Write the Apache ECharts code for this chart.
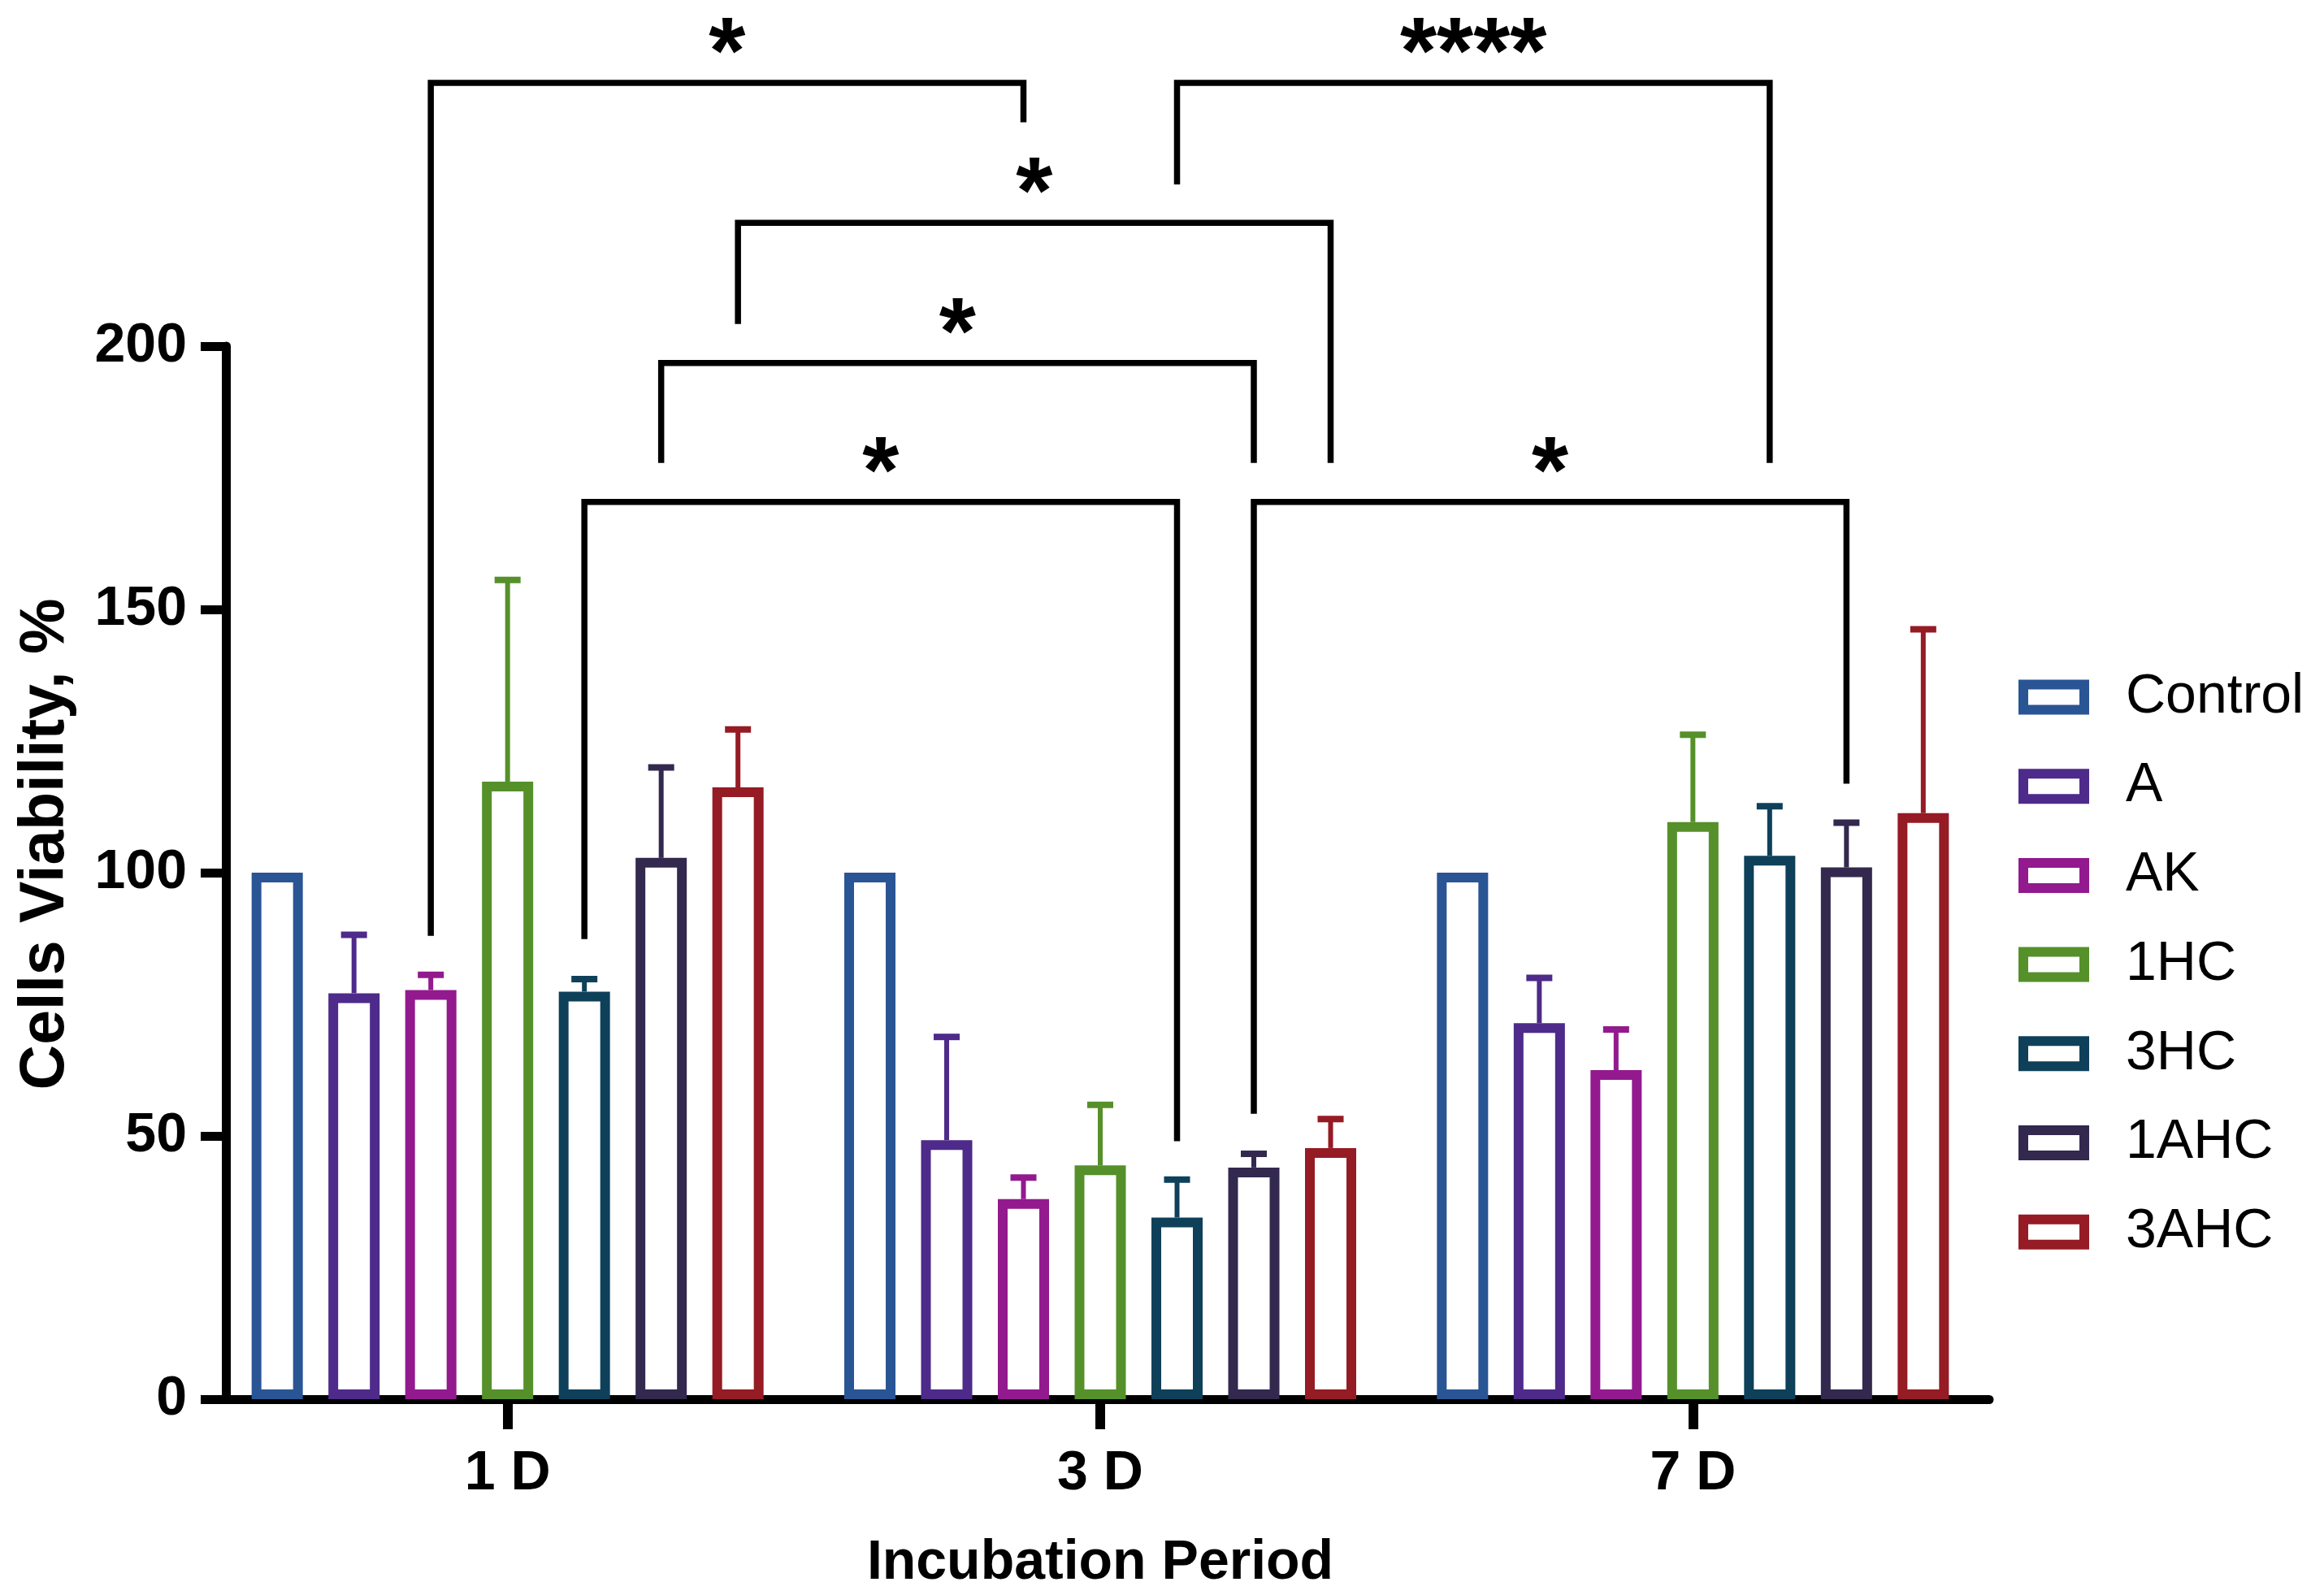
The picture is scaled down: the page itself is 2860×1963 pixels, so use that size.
<!DOCTYPE html>
<html>
<head>
<meta charset="utf-8">
<script src="https://cdn.jsdelivr.net/npm/echarts@6/dist/echarts.min.js"></script>
<style>
html,body{margin:0;padding:0;background:#fff;}
#chart{width:2860px;height:1963px;}
</style>
</head>
<body>
<div id="chart"></div>
<script>
// ---- data ----
const categories = ['1 D', '3 D', '7 D'];
const groups = ['Control', 'A', 'AK', '1HC', '3HC', '1AHC', '3AHC'];
const meanControl = [100, 100, 100];
const meanA      = [77.1, 49.2, 71.4];
const meanAK     = [77.7, 38.0, 62.5];
const mean1HC    = [117.3, 44.4, 109.6];
const mean3HC    = [77.4, 34.5, 103.2];
const mean1AHC   = [102.8, 44.0, 101.0];
const mean3AHC   = [116.2, 47.7, 111.3];
const sdControl  = [0, 0, 0];
const sdA        = [11.1, 19.6, 8.6];
const sdAK       = [2.9, 4.1, 7.7];
const sd1HC      = [38.3, 11.5, 16.6];
const sd3HC      = [2.4, 7.2, 9.4];
const sd1AHC     = [17.2, 2.6, 8.5];
const sd3AHC     = [11.0, 5.5, 34.9];
const yTicks = [0, 50, 100, 150, 200];
// significance brackets: [category, group] pairs, bracket level, feet ends (data units)
const bracketFrom   = [[0, 2], [1, 4], [0, 6], [0, 5], [0, 4], [1, 5]];
const bracketTo     = [[1, 2], [2, 4], [1, 6], [1, 5], [1, 4], [2, 5]];
const bracketLevel  = [250, 250, 223.4, 196.8, 170.4, 170.4];
const bracketFeet   = [[88, 242.5], [230.7, 177.8], [204.2, 177.8], [177.8, 177.8], [87.4, 49], [54.2, 116.9]];
const bracketLabels = ['*', '****', '*', '*', '*', '*'];

// ---- style ----
const means = [meanControl, meanA, meanAK, mean1HC, mean3HC, mean1AHC, mean3AHC];
const sds = [sdControl, sdA, sdAK, sd1HC, sd3HC, sd1AHC, sd3AHC];
const colors = ['#2A5595', '#4E2A8A', '#921A8E', '#56902A', '#0F405A', '#33284E', '#951B24'];
const FONT = '"Liberation Sans", Arial, Helvetica, sans-serif';
const BAR_W = 63;
const BAR_GAP = 0.5;
const BAR_STEP = BAR_W * (1 + BAR_GAP);
const MID = (groups.length - 1) / 2;

const chart = echarts.init(document.getElementById('chart'));

const barSeries = groups.map((g, i) => ({
  name: g,
  type: 'bar',
  data: means[i],
  barWidth: BAR_W,
  barGap: (BAR_GAP * 100) + '%',
  itemStyle: { color: '#ffffff', borderColor: colors[i], borderWidth: 12 },
  emphasis: { disabled: true },
  z: 2
}));

const errData = [];
groups.forEach((g, gi) => {
  categories.forEach((c, ci) => {
    if (sds[gi][ci] > 0) errData.push([ci, gi, means[gi][ci], means[gi][ci] + sds[gi][ci]]);
  });
});

const errSeries = {
  type: 'custom',
  name: 'err',
  data: errData,
  encode: { x: 0, y: [2, 3] },
  z: 3,
  silent: true,
  renderItem: function (params, api) {
    const ci = api.value(0), gi = api.value(1);
    const p1 = api.coord([ci, api.value(2)]);
    const p2 = api.coord([ci, api.value(3)]);
    const x = p1[0] + (gi - MID) * BAR_STEP;
    const col = colors[gi];
    return {
      type: 'group',
      children: [
        { type: 'line', shape: { x1: x, y1: p1[1], x2: x, y2: p2[1] }, style: { stroke: col, lineWidth: 6 } },
        { type: 'line', shape: { x1: x - 16, y1: p2[1], x2: x + 16, y2: p2[1] }, style: { stroke: col, lineWidth: 8 } }
      ]
    };
  }
};

const bracketData = bracketFrom.map((f, i) => [f[0], f[1], bracketTo[i][0], bracketTo[i][1], bracketLevel[i], bracketFeet[i][0], bracketFeet[i][1]]);

const bracketSeries = {
  type: 'custom',
  name: 'sig',
  data: bracketData,
  encode: { x: [0, 2], y: [4, 5, 6] },
  clip: false,
  silent: true,
  z: 5,
  renderItem: function (params, api) {
    const xA = api.coord([api.value(0), 0])[0] + (api.value(1) - MID) * BAR_STEP;
    const xB = api.coord([api.value(2), 0])[0] + (api.value(3) - MID) * BAR_STEP;
    const yL = api.coord([0, api.value(4)])[1];
    const yA = api.coord([0, api.value(5)])[1];
    const yB = api.coord([0, api.value(6)])[1];
    return {
      type: 'group',
      children: [
        { type: 'polyline', shape: { points: [[xA, yA], [xA, yL], [xB, yL], [xB, yB]] },
          style: { stroke: '#000', lineWidth: 7.5, fill: null, lineJoin: 'miter', lineCap: 'butt' } },
        { type: 'text', x: (xA + xB) / 2, y: yL - 31,
          style: { text: bracketLabels[params.dataIndex], fontSize: 116, fontWeight: 'bold', fontFamily: FONT,
                   fill: '#000', align: 'center', verticalAlign: 'middle' } }
      ]
    };
  }
};

chart.setOption({
  animation: false,
  backgroundColor: '#ffffff',
  textStyle: { fontFamily: FONT },
  grid: { left: 260, right: 412, top: 426, bottom: 236, containLabel: false },
  legend: {
    orient: 'vertical',
    left: 2479,
    top: 818,
    icon: 'rect',
    itemWidth: 75,
    itemHeight: 31,
    itemGap: 39.7,
    selectedMode: false,
    data: groups.map((g, i) => ({ name: g, itemStyle: { color: '#ffffff', borderColor: colors[i], borderWidth: 12 } })),
    textStyle: { fontSize: 68, color: '#000', fontFamily: FONT, lineHeight: 70, padding: [0, 0, 0, 46] }
  },
  xAxis: {
    type: 'category',
    data: categories,
    boundaryGap: true,
    axisLine: { show: true, lineStyle: { color: '#000', width: 11 } },
    axisTick: { show: true, alignWithLabel: true, length: 37, lineStyle: { color: '#000', width: 12 } },
    axisLabel: { fontSize: 68, fontWeight: 'bold', color: '#000', margin: 58, fontFamily: FONT },
    name: 'Incubation Period',
    nameLocation: 'middle',
    nameGap: 168,
    nameTextStyle: { fontSize: 68, fontWeight: 'bold', color: '#000', fontFamily: FONT },
    splitLine: { show: false }
  },
  yAxis: {
    type: 'value',
    min: yTicks[0],
    max: yTicks[yTicks.length - 1],
    interval: yTicks[1] - yTicks[0],
    offset: -18,
    axisLine: { show: true, lineStyle: { color: '#000', width: 11 } },
    axisTick: { show: true, length: 31, lineStyle: { color: '#000', width: 11 } },
    axisLabel: { fontSize: 68, fontWeight: 'bold', color: '#000', margin: 48, fontFamily: FONT },
    splitLine: { show: false },
    name: 'Cells Viability, %',
    nameLocation: 'middle',
    nameGap: 183,
    nameTextStyle: { fontSize: 77, fontWeight: 'bold', color: '#000', fontFamily: FONT, padding: [0, 0, 0, 70] }
  },
  series: barSeries.concat([errSeries, bracketSeries])
});
</script>
</body>
</html>
